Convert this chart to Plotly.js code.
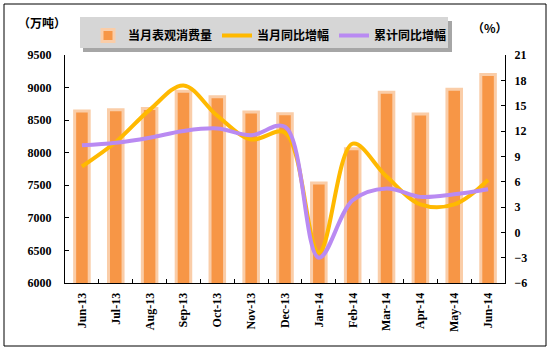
<!DOCTYPE html>
<html>
<head>
<meta charset="utf-8">
<script src="https://cdn.plot.ly/plotly-3.0.1.min.js"></script>
<style>html,body{margin:0;padding:0;background:#fff;}#chart{width:551px;height:351px;}</style>
</head>
<body>
<div id="chart"></div>
<script>
const months = ["Jun-13","Jul-13","Aug-13","Sep-13","Oct-13","Nov-13","Dec-13","Jan-14","Feb-14","Mar-14","Apr-14","May-14","Jun-14"];
const consumption = [8640, 8660, 8680, 8945, 8860, 8625, 8600, 7535, 8060, 8930, 8595, 8975, 9200];
const monthlyGrowth = [7.8, 10.7, 14.5, 17.4, 13.8, 11.0, 11.8, -2.4, 10.5, 6.6, 3.3, 3.3, 6.2];
const cumulativeGrowth = [10.3, 10.6, 11.2, 12.0, 12.3, 11.5, 12.5, -3.0, 3.8, 5.2, 4.2, 4.5, 5.1];
const leftTicks = [6000, 6500, 7000, 7500, 8000, 8500, 9000, 9500];
const rightTicks = [-6, -3, 0, 3, 6, 9, 12, 15, 18, 21];

const W = 551, H = 351, L = 65, R = 46, T = 55, B = 68;
const pw = W - L - R, ph = H - T - B;
const px = x => (x - L) / pw;
const py = y => (H - B - y) / ph;

const tickFont = {family: "Liberation Serif, serif", size: 12, color: "#000", weight: "bold"};
const cjkFont = {family: "Noto Sans CJK SC, sans-serif", size: 12, color: "#000", weight: "bold"};

const traces = [
  {type: "bar", name: "当月表观消费量", x: months, y: consumption, width: 0.43,
   marker: {color: "#F79646", line: {color: "#FACDA8", width: 3}}, yaxis: "y"},
  {type: "scatter", mode: "lines", name: "当月同比增幅", x: months, y: monthlyGrowth,
   line: {color: "#FFB900", width: 4, shape: "spline", smoothing: 1}, yaxis: "y2"},
  {type: "scatter", mode: "lines", name: "累计同比增幅", x: months, y: cumulativeGrowth,
   line: {color: "#B98AF2", width: 4, shape: "spline", smoothing: 1}, yaxis: "y2"}
];

const layout = {
  width: W, height: H,
  margin: {l: L, r: R, t: T, b: B, pad: 0},
  paper_bgcolor: "#fff", plot_bgcolor: "#fff",
  showlegend: true,
  legend: {orientation: "h", x: px(88), y: py(21), xanchor: "left", yanchor: "top",
           bgcolor: "rgba(0,0,0,0)", font: cjkFont, itemwidth: 30, traceorder: "normal"},
  xaxis: {type: "category", showgrid: false, showline: true, linecolor: "#000", linewidth: 1,
          ticks: "inside", ticklen: 4, tickcolor: "#000", tickson: "boundaries",
          tickangle: -90, tickfont: tickFont, ticklabelstandoff: 4, zeroline: false,
          range: [-0.5, 12.5]},
  yaxis: {range: [6000, 9500], tickvals: leftTicks, showgrid: false, showline: true,
          linecolor: "#000", linewidth: 1, ticks: "inside", ticklen: 4, tickcolor: "#000",
          tickfont: tickFont, zeroline: false, ticklabelstandoff: 10},
  yaxis2: {range: [-6, 21], tickvals: rightTicks, overlaying: "y", side: "right",
           showgrid: false, showline: true, linecolor: "#000", linewidth: 1,
           ticks: "inside", ticklen: 4, tickcolor: "#000", tickfont: tickFont,
           zeroline: false, ticklabelstandoff: 6},
  shapes: [
    {type: "rect", xref: "paper", yref: "paper", x0: px(4), x1: px(546), y0: py(4), y1: py(346),
     line: {color: "#000", width: 1}, fillcolor: "rgba(0,0,0,0)", layer: "below"},
    {type: "rect", xref: "paper", yref: "paper", x0: px(83), x1: px(452), y0: py(21), y1: py(52),
     line: {width: 0}, fillcolor: "#A6A6A6", layer: "below"},
    {type: "rect", xref: "paper", yref: "paper", x0: px(80), x1: px(448), y0: py(17), y1: py(48),
     line: {width: 0}, fillcolor: "#D6D6D6", layer: "below"}
  ],
  annotations: [
    {text: "（万吨）", xref: "paper", yref: "paper", x: px(42), y: py(22), xanchor: "center", yanchor: "middle",
     showarrow: false, font: cjkFont},
    {text: "（%）", xref: "paper", yref: "paper", x: px(490), y: py(28), xanchor: "center", yanchor: "middle",
     showarrow: false, font: cjkFont}
  ]
};

Plotly.newPlot("chart", traces, layout, {displayModeBar: false, staticPlot: true});
</script>
</body>
</html>
